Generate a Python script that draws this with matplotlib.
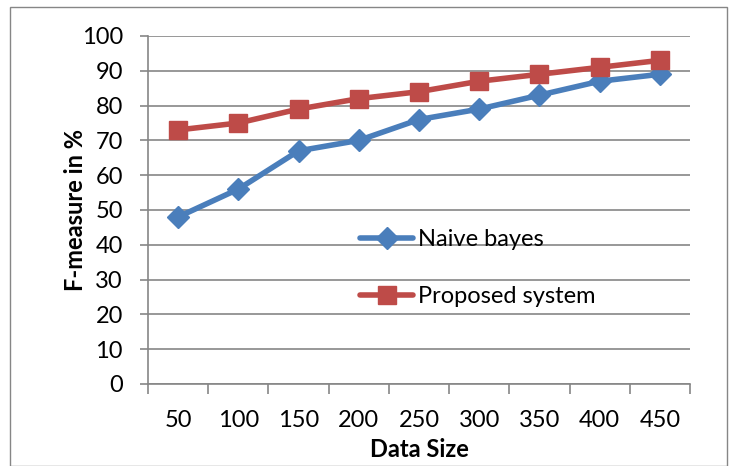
import matplotlib.pyplot as plt
from matplotlib.patches import Rectangle

# Data
data_size = ['50', '100', '150', '200', '250', '300', '350', '400', '450']
naive_bayes = [48, 56, 67, 70, 76, 79, 83, 87, 89]
proposed = [73, 75, 79, 82, 84, 87, 89, 91, 93]

plt.rcParams['font.family'] = ['Lato', 'DejaVu Sans']

fig = plt.figure(figsize=(7.36, 4.66), dpi=100)
ax = fig.add_axes([148 / 736, 1 - 384 / 466, (690 - 148) / 736, (384 - 36) / 466])

# outer chart border
fig.patches.append(Rectangle((10 / 736, 0.0), 717 / 736, 1 - 7 / 466,
                             transform=fig.transFigure, fill=False,
                             edgecolor='#868686', linewidth=1))

x = list(range(len(data_size)))
blue = '#4a7ebb'
red = '#be4b48'
ax.plot(x, naive_bayes, color=blue, linewidth=4, marker='D', markersize=11,
        label='Naive bayes', solid_capstyle='round')
ax.plot(x, proposed, color=red, linewidth=4, marker='s', markersize=13,
        label='Proposed system', solid_capstyle='round')

ax.set_xlim(-0.5, len(data_size) - 0.5)
ax.set_ylim(0, 100)
ax.set_yticks(range(0, 101, 10))
ax.set_xticks(x)
ax.set_xticklabels(data_size)
ax.set_xticks([i - 0.5 for i in range(len(data_size) + 1)], minor=True)
ax.tick_params(axis='x', which='major', length=0, pad=19, labelsize=17)
ax.tick_params(axis='x', which='minor', length=7, width=1.2, color='#868686')
ax.tick_params(axis='y', length=6, width=1.2, color='#868686', labelsize=17, pad=12)
ax.grid(axis='y', color='#868686', linewidth=1.2)
ax.set_axisbelow(True)
for side in ['top', 'right']:
    ax.spines[side].set_visible(False)
for side in ['left', 'bottom']:
    ax.spines[side].set_color('#868686')
    ax.spines[side].set_linewidth(1.2)

ax.set_xlabel('Data Size', fontsize=17, fontweight='bold', labelpad=5)
ax.set_ylabel('F-measure in %', fontsize=17, fontweight='bold')
ax.yaxis.set_label_coords(-0.112, 0.5)

ax.legend(loc='upper left', bbox_to_anchor=(0.37, 0.48), frameon=False,
          fontsize=17, handlelength=2.25, handletextpad=0.2, labelspacing=1.55,
          borderpad=0)

fig.savefig('out.png', dpi=100)
